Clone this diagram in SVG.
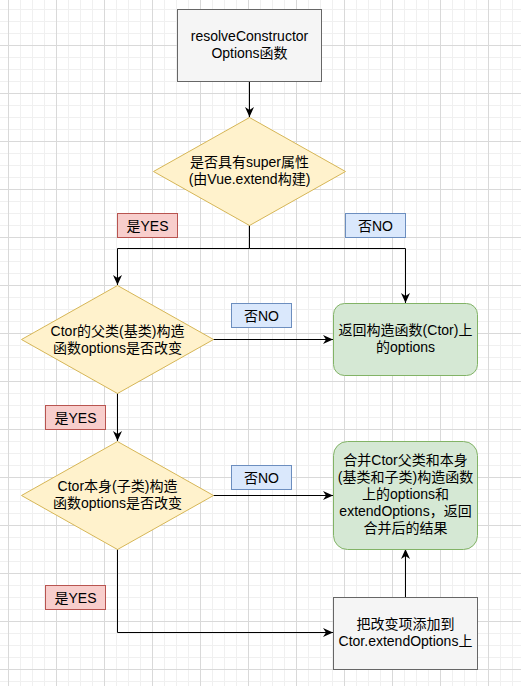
<svg xmlns="http://www.w3.org/2000/svg" width="521" height="686" viewBox="0 0 521 686">
<defs>
<pattern id="grid" x="8" y="-3" width="48" height="48" patternUnits="userSpaceOnUse">
<rect x="0" y="0" width="48" height="48" fill="#ffffff"/>
<rect x="12" y="0" width="1" height="48" fill="#f0f0f0"/>
<rect x="24" y="0" width="1" height="48" fill="#f0f0f0"/>
<rect x="36" y="0" width="1" height="48" fill="#f0f0f0"/>
<rect x="0" y="12" width="48" height="1" fill="#f0f0f0"/>
<rect x="0" y="24" width="48" height="1" fill="#f0f0f0"/>
<rect x="0" y="36" width="48" height="1" fill="#f0f0f0"/>
<rect x="0" y="0" width="1" height="48" fill="#d9d9d9"/>
<rect x="0" y="0" width="48" height="1" fill="#d9d9d9"/>
</pattern>
<marker id="arr" viewBox="0 0 10 10" refX="10" refY="5" markerWidth="10" markerHeight="9" preserveAspectRatio="none" markerUnits="userSpaceOnUse" orient="auto">
<path d="M0,0 L10,5 L0,10 L3,5 Z" fill="#000"/>
</marker>
</defs>
<style>
text{font-family:"Liberation Sans","Noto Sans CJK SC",sans-serif;font-size:14px;fill:#000;text-anchor:middle}
.gray{fill:#f5f5f5;stroke:#666666;stroke-width:1}
.dia{fill:#fff2cc;stroke:#d6b656;stroke-width:1}
.green{fill:#d5e8d4;stroke:#82b366;stroke-width:1}
.yes{fill:#f8cecc;stroke:#b85450;stroke-width:1}
.no{fill:#dae8fc;stroke:#6c8ebf;stroke-width:1}
.edge{fill:none;stroke:#000;stroke-width:1}
</style>
<rect x="0" y="0" width="521" height="686" fill="url(#grid)"/>

<g id="connectors">
<path class="edge" d="M249.5,81 V117" marker-end="url(#arr)"/>
<path class="edge" d="M249.5,225 V248.5 H117.5 V285" marker-end="url(#arr)"/>
<path class="edge" d="M249.5,248.5 H405.5 V303" marker-end="url(#arr)"/>
<path class="edge" d="M213,339.5 H333" marker-end="url(#arr)"/>
<path class="edge" d="M117.5,393 V441" marker-end="url(#arr)"/>
<path class="edge" d="M213,495.5 H333" marker-end="url(#arr)"/>
<path class="edge" d="M117.5,549 V632.5 H333" marker-end="url(#arr)"/>
<path class="edge" d="M405.5,597 V549" marker-end="url(#arr)"/>
</g>

<g id="start">
<rect class="gray" x="177.5" y="9.5" width="144" height="72"/>
<text x="249.5" y="41">resolveConstructor</text>
<text x="249.5" y="58">Options函数</text>
</g>

<g id="decision1">
<polygon class="dia" points="249.5,117.5 345.5,171.5 249.5,225.5 153.5,171.5"/>
<text x="249.5" y="167">是否具有super属性</text>
<text x="249.5" y="184">(由Vue.extend构建)</text>
</g>

<g id="label-yes1">
<rect class="yes" x="117.5" y="213.5" width="60" height="24"/>
<text x="147.5" y="230.5">是YES</text>
</g>
<g id="label-no1">
<rect class="no" x="345.5" y="213.5" width="60" height="24"/>
<text x="375.5" y="230.5">否NO</text>
</g>

<g id="decision2">
<polygon class="dia" points="117.5,285.5 213.5,339.5 117.5,393.5 21.5,339.5"/>
<text x="117.5" y="336">Ctor的父类(基类)构造</text>
<text x="117.5" y="353">函数options是否改变</text>
</g>

<g id="return-options">
<rect class="green" x="333.5" y="303.5" width="144" height="72" rx="11" ry="11"/>
<text x="405.5" y="335">返回构造函数(Ctor)上</text>
<text x="405.5" y="352">的options</text>
</g>

<g id="label-no2">
<rect class="no" x="231.5" y="303.5" width="60" height="24"/>
<text x="261.5" y="320.5">否NO</text>
</g>
<g id="label-yes2">
<rect class="yes" x="45.5" y="405.5" width="60" height="24"/>
<text x="75.5" y="422.5">是YES</text>
</g>

<g id="decision3">
<polygon class="dia" points="117.5,441.5 213.5,495.5 117.5,549.5 21.5,495.5"/>
<text x="117.5" y="491">Ctor本身(子类)构造</text>
<text x="117.5" y="508">函数options是否改变</text>
</g>

<g id="merge-options">
<rect class="green" x="333.5" y="441.5" width="144" height="108" rx="14" ry="14"/>
<text x="405.5" y="465">合并Ctor父类和本身</text>
<text x="405.5" y="482">(基类和子类)构造函数</text>
<text x="405.5" y="499">上的options和</text>
<text x="405.5" y="516">extendOptions，返回</text>
<text x="405.5" y="533">合并后的结果</text>
</g>

<g id="label-no3">
<rect class="no" x="231.5" y="465.5" width="60" height="24"/>
<text x="261.5" y="482.5">否NO</text>
</g>
<g id="label-yes3">
<rect class="yes" x="45.5" y="585.5" width="60" height="24"/>
<text x="75.5" y="602.5">是YES</text>
</g>

<g id="add-changes">
<rect class="gray" x="333.5" y="597.5" width="144" height="72"/>
<text x="405.5" y="629">把改变项添加到</text>
<text x="405.5" y="646">Ctor.extendOptions上</text>
</g>
</svg>
